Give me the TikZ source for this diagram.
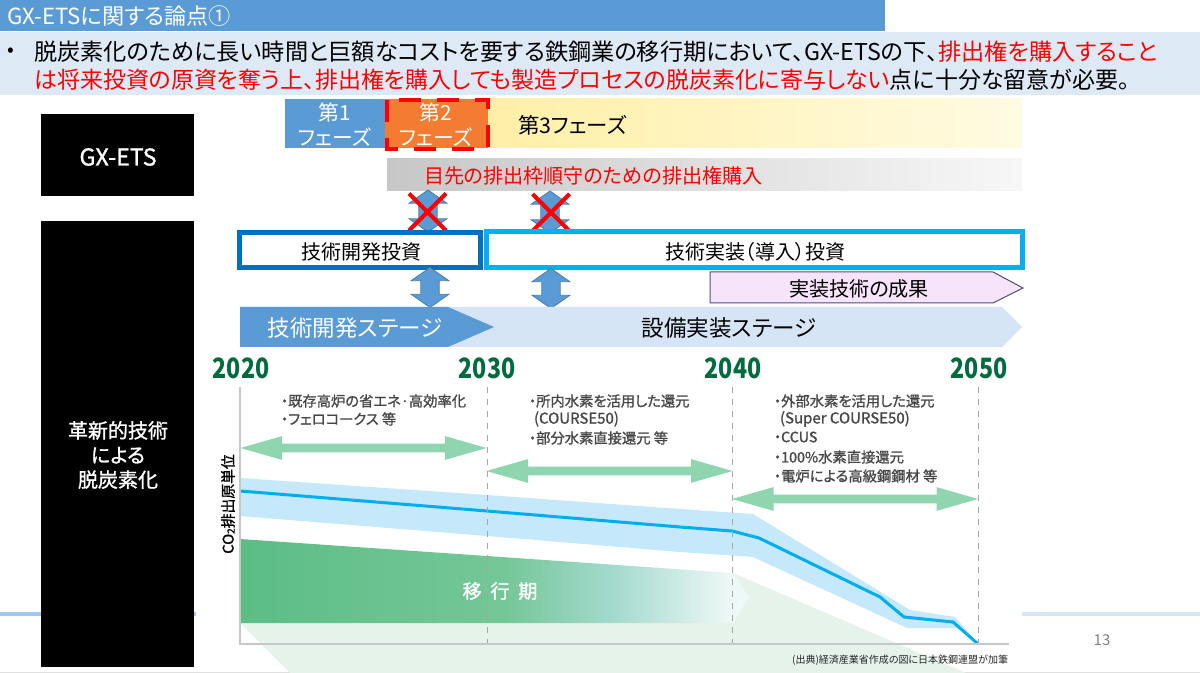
\documentclass[tikz,border=0pt]{standalone}
\usepackage{fontspec}
\usepackage{xcolor}
\usetikzlibrary{shapes.arrows,shapes.misc}
\setmainfont[RawFeature=+palt]{Noto Sans CJK JP}
\newfontfamily\medfont[RawFeature=+palt,FakeBold=1.2]{Noto Sans CJK JP}

\definecolor{titleblue}{HTML}{5B9BD5}
\definecolor{bandblue}{HTML}{DEE9F6}
\definecolor{stagelight}{HTML}{D6E5F5}
\definecolor{orangeph}{HTML}{F37C32}
\definecolor{devblue}{HTML}{0070C0}
\definecolor{implblue}{HTML}{00B0F0}
\definecolor{pinkfill}{HTML}{F8E4FA}
\definecolor{yeargreen}{HTML}{006B3C}
\definecolor{arrowgreen}{HTML}{8FD6B0}
\definecolor{shadegreen}{HTML}{E6F3EA}
\definecolor{bandsky}{HTML}{C5E8FB}
\definecolor{linesky}{HTML}{00AEEF}
\definecolor{midgreen}{HTML}{5CBD85}
\definecolor{midteal}{HTML}{A6DAD0}
\definecolor{footblue}{HTML}{D6E5F8}
\definecolor{footleft}{HTML}{A2C8F0}
\definecolor{phaseleft}{HTML}{FFEFA6}
\definecolor{phaseright}{HTML}{FFFBE2}
\pgfdeclarehorizontalshading{migrateshade}{100bp}{color(0bp)=(midgreen);
  color(25bp)=(midgreen); color(38bp)=(midgreen!92!white); color(51bp)=(midgreen!85!white);
  color(62bp)=(midteal); color(73bp)=(midteal!20!white); color(100bp)=(white)}

\newcommand{\fsz}[1]{\fontsize{#1}{#1}\selectfont}

\begin{document}
\begin{tikzpicture}[x=0.5pt,y=-0.5pt,>=stealth,
    lbl/.style={inner sep=0pt,outer sep=0pt},
    listtxt/.style={lbl,anchor=west,color=black!72,font=\medfont\fsz{7.15}},
    blackbox/.style={fill=black},
    bluearrow/.style={shape=double arrow,rotate=90,fill=titleblue,draw=titleblue!80!black,
      line width=0.4pt,inner sep=4.4pt,minimum width=18.5pt,minimum height=20pt,
      double arrow head extend=4.8pt,double arrow tip angle=110},
    greenarrow/.style={shape=double arrow,fill=arrowgreen,inner sep=2pt,minimum width=11.5pt,
      minimum height=123pt,double arrow head extend=3.75pt,double arrow tip angle=32},
    redcross/.style={cross out,draw=red,line width=2pt,minimum size=16.5pt,inner sep=0pt}]
  \useasboundingbox (0,0) rectangle (1200,673);

  % header
  \fill[footleft] (0,612) rectangle (196,616);
  \fill[footblue] (1022,612) rectangle (1200,616);
  \draw[black!12,line width=0.5pt] (0,672) -- (1200,672);
  \fill[titleblue] (0,0) rectangle (885,31);
  \node[lbl,anchor=west,text=white,font=\fsz{11.1}] (title) at (7,16) {GX-ETSに関する論点①};
  \fill[bandblue] (0,32) rectangle (1200,95);
  \node[lbl,font=\fsz{10}] (bullet) at (11,52) {•};
  \node[lbl,anchor=west,font=\fsz{11.6}] (line1) at (34,52)
    {脱炭素化のために長い時間と巨額なコストを要する鉄鋼業の移行期において、GX-ETSの下、\textcolor{red}{排出権を購入すること}};
  \node[lbl,anchor=west,font=\fsz{11.5}] (line2) at (34,80)
    {\textcolor{red}{は将来投資の原資を奪う上、排出権を購入しても製造プロセスの脱炭素化に寄与しない}点に十分な留意が必要。};

  % left column
  \fill[blackbox] (41,114) rectangle (194,196);
  \fill[blackbox] (41,221) rectangle (194,667);
  \node[lbl,text=white,font=\medfont\fsz{11.6}] (gxbox) at (118,157) {GX-ETS};
  \node[lbl,text=white,align=center,font=\medfont\fontsize{10}{12.3}\selectfont] (techbox) at (118,455)
    {革新的技術\\による\\脱炭素化};

  % phases
  \shade[left color=phaseleft,right color=phaseright] (488,99) rectangle (1022,148);
  \fill[titleblue] (285,99) rectangle (385,148);
  \fill[orangeph] (385,99) rectangle (488,148);
  \node[lbl,text=white,align=center,font=\fontsize{10.4}{12.5}\selectfont] (ph1) at (335,125) {第1\\フェーズ};
  \node[lbl,text=white,align=center,font=\fontsize{10.4}{12.5}\selectfont] (ph2) at (436,125) {第2\\フェーズ};
  \node[lbl,anchor=west,font=\fsz{10.7}] (ph3) at (518,125) {第3フェーズ};
  \draw[red,line width=2pt,dash pattern=on 11pt off 8pt] (387,100) rectangle (488,149);

  \shade[left color=black!22,right color=black!3] (387,159) rectangle (1022,191);
  \node[lbl,anchor=west,text=red,font=\fsz{10.05}] (buy) at (424,176) {目先の排出枠順守のための排出権購入};

  % arrows between the rows
  \node[bluearrow,minimum height=21pt] (upa) at (428,211) {};
  \node[bluearrow,minimum height=21pt] (upb) at (550,212) {};
  \node[redcross] (crossa) at (427.5,212) {};
  \node[redcross] (crossb) at (551,212.5) {};

  \draw[implblue,line width=2.5pt,fill=white] (486.5,231.5) rectangle (1022.5,267.5);
  \node[lbl,font=\fsz{10}] (impl) at (755,252) {技術実装（導入）投資};
  \draw[devblue,line width=2.5pt,fill=white] (239.5,232.5) rectangle (480.5,267.5);
  \node[lbl,font=\fsz{10}] (dev) at (361,252) {技術開発投資};

  \node[bluearrow] (lowa) at (430,287.5) {};
  \node[bluearrow] (lowb) at (551,288.5) {};

  \draw[fill=pinkfill,draw=black!70!blue!70,line width=0.5pt] (710,272) -- (993,272) -- (1023,288) -- (993,303) -- (710,303) -- cycle;
  \node[lbl,font=\fsz{10.05}] (fruit) at (859,289) {実装技術の成果};

  % stages
  \fill[stagelight] (240,307) -- (1002,307) -- (1022,327) -- (1002,347) -- (240,347) -- cycle;
  \fill[titleblue] (240,307) -- (448,307) -- (494,327) -- (448,347) -- (240,347) -- cycle;
  \node[lbl,text=white,font=\fsz{11.25}] (devstage) at (355,328) {技術開発ステージ};
  \node[lbl,font=\fsz{11.25}] (implstage) at (729,328) {設備実装ステージ};

  % chart
  \fill[shadegreen] (240,623) -- (733,573) -- (966,673) -- (290,673) -- cycle;
  \shade[shading=migrateshade] (240,539) -- (487,556) -- (733,573) -- (749,597) -- (733,623) -- (240,623) -- cycle;
  \fill[bandsky] (240,478) -- (487,495) -- (680,509) -- (753,514) -- (910,610) -- (955,617) -- (978,644)
    -- (958,628) -- (907,628) -- (753,557) -- (680,552) -- (487,536) -- (240,516) -- cycle;
  \draw[linesky,line width=1.5pt] (240,491) -- (487,511) -- (680,527) -- (732,531) -- (759,538)
    -- (880,597) -- (904,617) -- (953,622) -- (978,644);

  \foreach \x in {487,732,978} \draw[black!35,line width=0.4pt,dashed] (\x,387) -- (\x,644);
  \draw[black!22,line width=0.8pt] (240,387) -- (240,644) -- (1009,644);

  \foreach \x/\yr in {241/2020,487/2030,733/2040,979/2050}
    \node[lbl,text=yeargreen,font=\bfseries\fsz{14},xscale=0.83] (y\yr) at (\x,368) {\yr};

  \node[greenarrow] (arra) at (363.5,448) {};
  \node[greenarrow] (arrb) at (609.5,471) {};
  \node[greenarrow] (arrc) at (855,499) {};

  \node[listtxt] (a1) at (281,401) {・既存高炉の省エネ·高効率化};
  \node[listtxt] (a2) at (281,419) {・フェロコークス 等};
  \node[listtxt] (b1) at (529,401) {・所内水素を活用した還元};
  \node[listtxt,font=\medfont\fsz{7.5}] (b2) at (534,419) {(COURSE50)};
  \node[listtxt] (b3) at (529,438) {・部分水素直接還元 等};
  \node[listtxt] (c1) at (774,401) {・外部水素を活用した還元};
  \node[listtxt,font=\medfont\fsz{7.5}] (c2) at (780,419) {(Super COURSE50)};
  \node[listtxt] (c3) at (774,437) {・CCUS};
  \node[listtxt] (c4) at (774,457) {・100\%水素直接還元};
  \node[listtxt] (c5) at (774,476) {・電炉による高級鋼鋼材 等};

  \node[lbl,rotate=90,font=\medfont\fsz{7.4}] (ylab) at (228,504) {CO\raisebox{-0.5pt}{\fsz{5}2}排出原単位};
  \node[lbl,text=white,font=\medfont\fsz{9.6}] (iko) at (500,591) {移\ \ 行\ \ 期};
  \node[lbl,anchor=east,font=\fsz{5},text=black!85] (src) at (1008,660) {(出典)経済産業省作成の図に日本鉄鋼連盟が加筆};
  \node[lbl,text=black!50,font=\fsz{7.5}] (page) at (1102,640) {13};
\end{tikzpicture}
\end{document}
